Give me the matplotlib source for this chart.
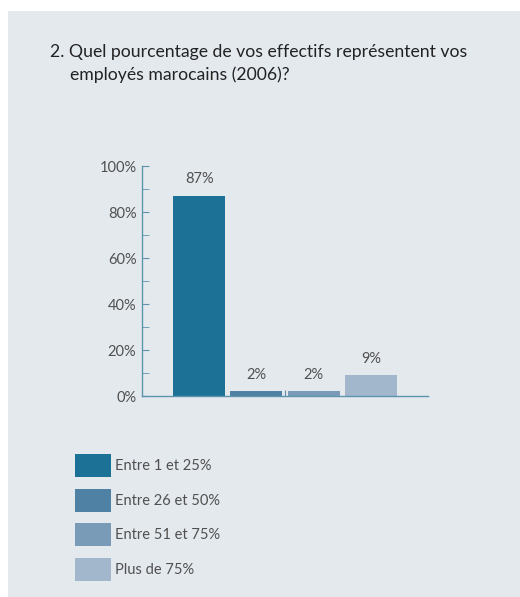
import matplotlib.pyplot as plt
from matplotlib.patches import Rectangle

W, H = 520, 597

categories = ["Entre 1 et 25%", "Entre 26 et 50%", "Entre 51 et 75%", "Plus de 75%"]
values = [87, 2, 2, 9]
colors = ["#1c7296", "#4f81a4", "#7a9bb7", "#a3b7cc"]
yticks = [0, 20, 40, 60, 80, 100]

title_lines = ["2. Quel pourcentage de vos effectifs représentent vos",
               "employés marocains (2006)?"]

bg = "#e4e9ee"
axis_col = "#5e93ad"
text_col = "#505050"

plt.rcParams['font.family'] = ['Lato', 'DejaVu Sans']

fig = plt.figure(figsize=(W / 100, H / 100), dpi=100)
fig.patch.set_facecolor("white")

# grey panel behind everything
fig.patches.append(Rectangle((8 / W, 0), 1 - 8 / W, 1 - 11 / H, transform=fig.transFigure,
                             facecolor=bg, edgecolor="none", zorder=-5))

fig.text(50 / W, 1 - 52 / H, title_lines[0], fontsize=12.7, color="#222222", va="center")
fig.text(70 / W, 1 - 75 / H, title_lines[1], fontsize=12.7, color="#222222", va="center")

ax = fig.add_axes([142 / W, 1 - 396 / H, (428 - 142) / W, (396 - 166) / H])
ax.set_facecolor("none")
ax.set_zorder(2)
x = range(len(values))
bars = ax.bar(x, values, width=0.907, color=colors, zorder=2)
ax.set_xlim(-1, 4)
ax.set_ylim(0, 100)

for b, v in zip(bars, values):
    ax.annotate(f"{v}%", (b.get_x() + b.get_width() / 2, v), xytext=(0, 7),
                textcoords="offset points", ha="center", va="bottom",
                fontsize=10.5, color=text_col)

for s in ["top", "right"]:
    ax.spines[s].set_visible(False)
ax.spines["left"].set_color(axis_col)
ax.spines["bottom"].set_color(axis_col)
ax.spines["left"].set_linewidth(1.0)
ax.spines["bottom"].set_linewidth(1.0)

ax.set_yticks(yticks)
ax.set_yticklabels([f"{t}%" for t in yticks])
ax.set_yticks(range(10, 100, 20), minor=True)
ax.tick_params(axis="y", which="both", direction="in", length=5, color=axis_col,
               labelsize=10.5, labelcolor=text_col, pad=4)
ax.set_xticks([1.5])
ax.set_xticklabels([])
ax.tick_params(axis="x", direction="in", length=4, color=axis_col)

# legend boxes
box_top = [454, 489, 523, 558]
for top, c, lab in zip(box_top, colors, categories):
    fig.patches.append(Rectangle((75 / W, 1 - (top + 23) / H), 36 / W, 23 / H,
                                 transform=fig.transFigure, facecolor=c, edgecolor="none"))
    fig.text(115 / W, 1 - (top + 12) / H, lab, fontsize=10.5, color=text_col, va="center")

fig.savefig("out.png", dpi=100, facecolor=fig.get_facecolor())
